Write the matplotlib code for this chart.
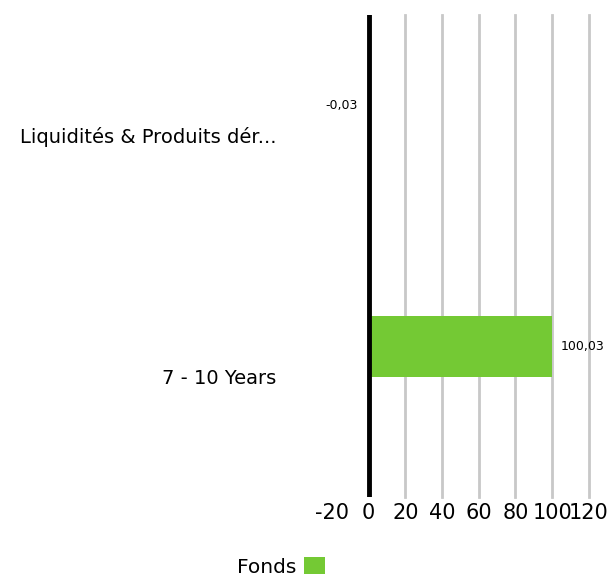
import matplotlib
matplotlib.use("Agg")
import matplotlib.pyplot as plt
from matplotlib.patches import Patch

categories = ["Liquidités & Produits dér...", "7 - 10 Years"]
fonds = [-0.03, 100.03]
value_labels = ["-0,03", "100,03"]
xticks = [-20, 0, 20, 40, 60, 80, 100, 120]

plt.rcParams['font.family'] = ['DejaVu Sans']

fig = plt.figure(figsize=(6.09, 5.74), dpi=100)
ax = fig.add_axes([0.545, 0.134, 0.422, 0.840])

green = "#74c934"
ypos = list(range(len(categories)))
bar_h = 0.25
bars = ax.barh([y - bar_h / 2 for y in ypos], fonds, height=bar_h, color=green, zorder=3)

ax.set_xlim(-20, 120)
ax.set_ylim(1.5, -0.5)

for t in xticks[2:]:
    ax.axvline(t, color="#c8c8c8", linewidth=2, zorder=1, clip_on=False)
ax.axvline(0, color="black", linewidth=3.5, zorder=4)

for s in ax.spines.values():
    s.set_visible(False)

ax.set_xticks(xticks)
ax.set_xticklabels([str(t) for t in xticks], fontsize=15)
ax.tick_params(axis="x", length=0, pad=4)
ax.set_yticks(ypos)
ax.set_yticklabels(categories, fontsize=14)
ax.tick_params(axis="y", length=0, pad=40)

for y, v, lab in zip(ypos, fonds, value_labels):
    if v >= 0:
        ax.text(v + 4.5, y - bar_h / 2, lab, ha="left", va="center", fontsize=9)
    else:
        ax.text(-6, y - bar_h / 2, lab, ha="right", va="center", fontsize=9)

handles = [Patch(facecolor=green, label="Fonds")]
fig.legend(handles=handles, loc="center", bbox_to_anchor=(0.461, 0.012), frameon=False,
           fontsize=14.5, markerfirst=False, handlelength=1.0, handleheight=1.0, handletextpad=0.4)

fig.savefig("out.png", dpi=100)
